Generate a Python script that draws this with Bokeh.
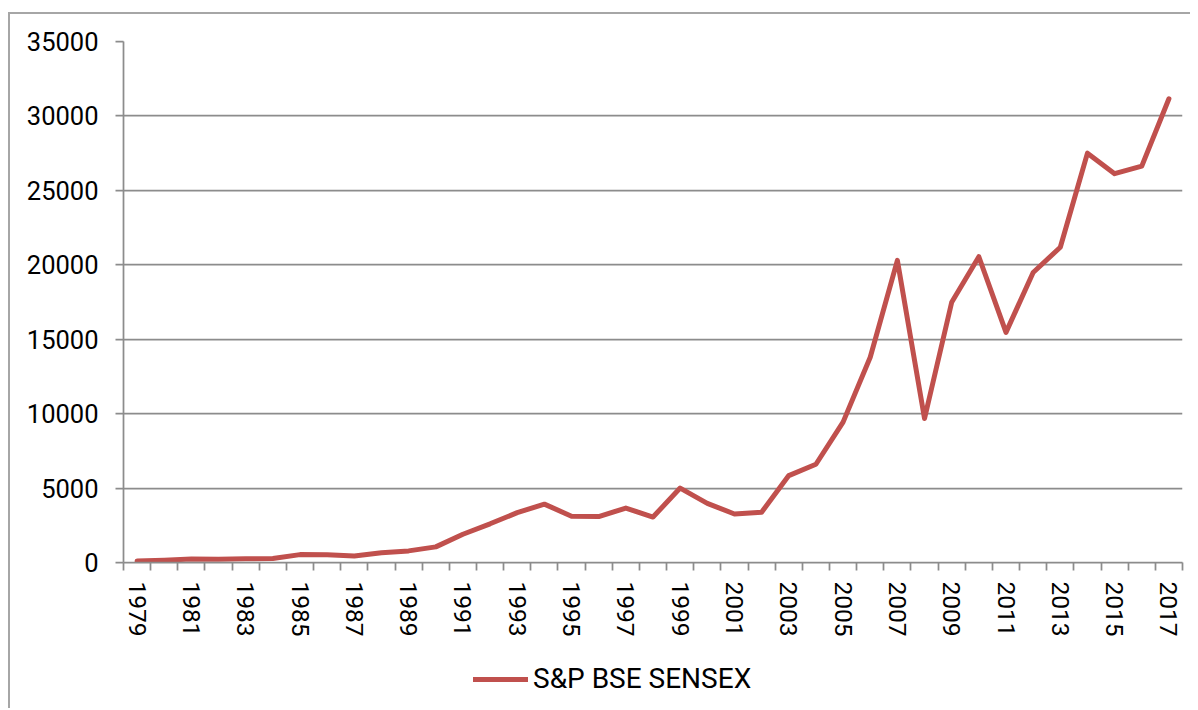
from bokeh.plotting import figure
from bokeh.layouts import column
from bokeh.models import FixedTicker, Legend, LegendItem, ColumnDataSource, Range1d
from bokeh.embed import file_html
from bokeh.resources import INLINE

years = list(range(1979, 2018))
sensex = [100, 150, 230, 220, 245, 270, 530, 525, 440, 660, 780, 1050,
          1900, 2600, 3350, 3920, 3110, 3085, 3660, 3055, 5000, 3970, 3260, 3380,
          5840, 6600, 9430, 13790, 20300, 9670, 17480, 20540, 15460, 19480, 21180,
          27500, 26120, 26630, 31150]
series_name = "S&P BSE SENSEX"
y_ticks = [0, 5000, 10000, 15000, 20000, 25000, 30000, 35000]
label_years = years[::2]

RED = "#C0504D"
GRID = "#8c8c8c"
FONT = "Roboto"
LINE_W = 5

src = ColumnDataSource(dict(year=years, value=sensex))

p = figure(width=1182, height=645, output_backend="svg", toolbar_location=None,
           x_range=Range1d(years[0] - 0.5, years[-1] + 0.5), y_range=Range1d(0, 35000),
           min_border_left=115, min_border_right=8, min_border_top=29, min_border_bottom=95,
           background_fill_color=None, border_fill_color=None)
p.outline_line_color = None

r = p.line("year", "value", source=src, line_color=RED, line_width=LINE_W,
           line_join="round", line_cap="round")

# y axis
ya = p.yaxis[0]
ya.ticker = FixedTicker(ticks=y_ticks)
ya.major_label_overrides = {t: str(t) for t in y_ticks}
ya.major_label_text_font = FONT
ya.major_label_text_font_size = "25.5px"
ya.major_label_text_color = "#000000"
ya.major_tick_out = 8
ya.major_tick_in = 0
ya.minor_tick_out = 0
ya.minor_tick_in = 0
ya.major_label_standoff = 17
ya.axis_line_color = GRID
ya.axis_line_width = 1.75
ya.major_tick_line_color = GRID
ya.major_tick_line_width = 1.75

# x axis
xa = p.xaxis[0]
boundaries = [y - 0.5 for y in years] + [years[-1] + 0.5]
xa.ticker = FixedTicker(ticks=label_years, minor_ticks=boundaries)
xa.major_label_overrides = {y: str(y) for y in label_years}
xa.major_label_orientation = "vertical"
xa.major_label_text_font = FONT
xa.major_label_text_font_size = "24.5px"
xa.major_label_text_color = "#000000"
xa.major_tick_out = 0
xa.major_tick_in = 0
xa.major_tick_line_color = None
xa.minor_tick_out = 8
xa.minor_tick_in = 0
xa.minor_tick_line_color = GRID
xa.minor_tick_line_width = 1.75
xa.major_label_standoff = 11
xa.axis_line_color = GRID
xa.axis_line_width = 1.75

p.xgrid.grid_line_color = None
p.ygrid.ticker = FixedTicker(ticks=y_ticks)
p.ygrid.grid_line_color = GRID
p.ygrid.grid_line_width = 1.75

# legend strip below the chart (frame aligned with the chart's frame)
lg = figure(width=1182, height=51, output_backend="svg", toolbar_location=None,
            x_range=Range1d(0, 1), y_range=Range1d(0, 1),
            min_border=0, background_fill_color=None, border_fill_color=None)
lg.axis.visible = False
lg.grid.visible = False
lg.outline_line_color = None
# same series, outside this strip's ranges: only its legend glyph shows
lr = lg.line("year", "value", source=src, line_color=RED, line_width=LINE_W,
             line_cap="round")

legend = Legend(items=[LegendItem(label=series_name, renderers=[lr])],
                location=(350, 13), orientation="horizontal",
                padding=0, margin=0, spacing=0,
                glyph_width=55, glyph_height=30, label_standoff=5,
                label_text_font=FONT, label_text_font_size="28px",
                label_text_color="#000000",
                border_line_color=None, background_fill_alpha=0)
lg.add_layout(legend, "center")

layout = column(p, lg, spacing=0)
layout.margin = (12, 0, 0, 8)
layout.styles = {"box-shadow": "inset 2px 2px 0 0 #a6a6a6"}

open("out.html", "w").write(file_html(layout, INLINE))
